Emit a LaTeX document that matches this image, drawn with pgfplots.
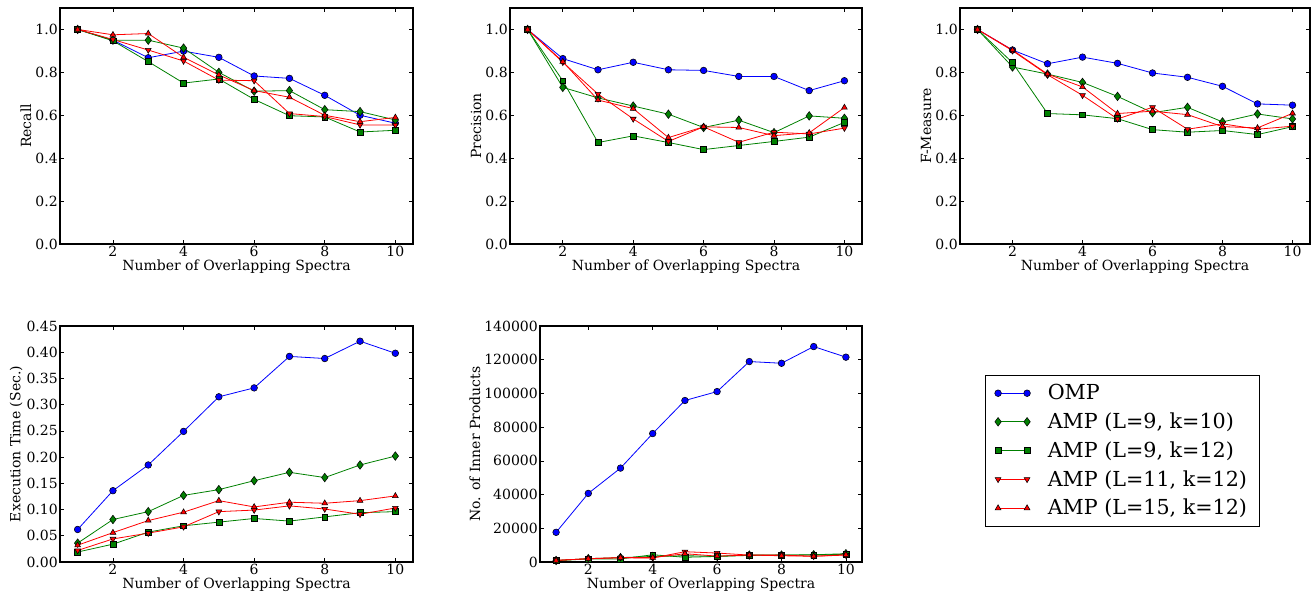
\documentclass[border=0pt]{standalone}
\usepackage{fontspec}
\setmainfont{DejaVu Serif}
\usepackage{pgfplots}
\usepackage{pgfplotstable}
\pgfplotsset{compat=1.18}

\pgfplotstableread{
x omp a b c d
1 1.0 1.0 1.0 1.0 1.0
2 0.950 0.950 0.947 0.953 0.975
3 0.868 0.950 0.850 0.904 0.981
4 0.899 0.913 0.750 0.853 0.870
5 0.870 0.800 0.769 0.764 0.788
6 0.783 0.712 0.674 0.761 0.715
7 0.772 0.715 0.598 0.608 0.684
8 0.693 0.626 0.592 0.594 0.600
9 0.600 0.617 0.522 0.555 0.570
10 0.563 0.578 0.530 0.555 0.590
}\recall

\pgfplotstableread{
x omp a b c d
1 1.0 1.0 1.0 1.0 1.0
2 0.864 0.730 0.761 0.847 0.850
3 0.812 0.681 0.473 0.699 0.671
4 0.847 0.643 0.504 0.583 0.631
5 0.812 0.605 0.473 0.478 0.496
6 0.809 0.543 0.440 0.546 0.546
7 0.781 0.577 0.459 0.474 0.543
8 0.781 0.519 0.478 0.521 0.505
9 0.715 0.597 0.498 0.513 0.518
10 0.761 0.586 0.567 0.540 0.636
}\precision

\pgfplotstableread{
x omp a b c d
1 1.0 1.0 1.0 1.0 1.0
2 0.904 0.825 0.845 0.901 0.904
3 0.840 0.792 0.608 0.789 0.792
4 0.871 0.753 0.602 0.693 0.732
5 0.842 0.688 0.584 0.583 0.608
6 0.797 0.612 0.533 0.637 0.619
7 0.777 0.637 0.521 0.535 0.603
8 0.735 0.569 0.529 0.560 0.547
9 0.653 0.606 0.510 0.535 0.541
10 0.647 0.583 0.547 0.549 0.609
}\fmeasure

\pgfplotstableread{
x omp a b c d
1 0.062 0.036 0.019 0.022 0.032
2 0.136 0.081 0.034 0.044 0.056
3 0.185 0.096 0.057 0.055 0.079
4 0.249 0.127 0.069 0.067 0.095
5 0.315 0.138 0.076 0.096 0.117
6 0.332 0.155 0.083 0.099 0.105
7 0.392 0.171 0.078 0.107 0.114
8 0.388 0.161 0.086 0.101 0.112
9 0.421 0.185 0.094 0.091 0.117
10 0.398 0.202 0.096 0.103 0.126
}\exectime

\pgfplotstableread{
x omp a b c d
1 17600 900 800 1000 900
2 40700 2000 1800 1900 2000
3 55700 2600 1800 2500 2600
4 76200 3300 4300 2400 2600
5 95800 3700 2800 6100 4900
6 101100 3400 3300 5300 3500
7 118900 4100 3900 4100 4100
8 117900 4100 4100 4100 3700
9 127800 4300 4100 3400 3400
10 121500 4900 4600 4100 4300
}\inner

\pgfplotsset{
  mpl/.style={
    scale only axis,
    height=177pt,
    axis line style={line width=0.8pt, black},
    xmin=0.5, xmax=10.5,
    xtick={2,4,6,8,10},
    tick align=inside,
    major tick length=3pt,
    tick style={black, line width=0.5pt},
    xlabel={Number of Overlapping Spectra},
    tick label style={font=\fontsize{10.5}{12}\selectfont, inner sep=1.5pt},
    label style={font=\fontsize{10.5}{12}\selectfont},
    xlabel style={yshift=3pt},
    ylabel style={yshift=-2pt},
    /pgf/number format/assume math mode=true,
  },
  prf/.style={
    mpl, ymin=0, ymax=1.1,
    ytick={0,0.2,0.4,0.6,0.8,1.0},
    yticklabel style={/pgf/number format/.cd, fixed, fixed zerofill, precision=1},
  },
  omp/.style={blue, line width=0.6pt, mark=*, mark size=2.5pt, mark options={fill=blue, draw=black, line width=0.4pt}},
  sa/.style={black!50!green, line width=0.6pt, mark=diamond*, mark size=3.2pt, mark options={fill=black!50!green, draw=black, line width=0.4pt}},
  sb/.style={black!50!green, line width=0.6pt, mark=square*, mark size=2.2pt, mark options={fill=black!50!green, draw=black, line width=0.4pt}},
  sc/.style={red, line width=0.6pt, mark=triangle*, mark size=2.5pt, mark options={rotate=180, fill=red, draw=black, line width=0.4pt}},
  sd/.style={red, line width=0.6pt, mark=triangle*, mark size=2.5pt, mark options={fill=red, draw=black, line width=0.4pt}},
}

\begin{document}
\begin{tikzpicture}
\path[use as bounding box] (0,0) rectangle (984pt,448.5pt);

\begin{axis}[prf, at={(45pt,265.5pt)}, anchor=south west, width=264.75pt, ylabel={Recall}]
\addplot[omp] table[x=x,y=omp] {\recall};
\addplot[sa] table[x=x,y=a] {\recall};
\addplot[sb] table[x=x,y=b] {\recall};
\addplot[sc] table[x=x,y=c] {\recall};
\addplot[sd] table[x=x,y=d] {\recall};
\end{axis}

\begin{axis}[prf, at={(382.5pt,265.5pt)}, anchor=south west, width=264pt, ylabel={Precision}]
\addplot[omp] table[x=x,y=omp] {\precision};
\addplot[sa] table[x=x,y=a] {\precision};
\addplot[sb] table[x=x,y=b] {\precision};
\addplot[sc] table[x=x,y=c] {\precision};
\addplot[sd] table[x=x,y=d] {\precision};
\end{axis}

\begin{axis}[prf, at={(720pt,265.5pt)}, anchor=south west, width=262.5pt, ylabel={F-Measure}]
\addplot[omp] table[x=x,y=omp] {\fmeasure};
\addplot[sa] table[x=x,y=a] {\fmeasure};
\addplot[sb] table[x=x,y=b] {\fmeasure};
\addplot[sc] table[x=x,y=c] {\fmeasure};
\addplot[sd] table[x=x,y=d] {\fmeasure};
\end{axis}

\begin{axis}[mpl, at={(45pt,27pt)}, anchor=south west, width=264.75pt,
  ymin=0, ymax=0.45,
  ytick={0,0.05,0.10,0.15,0.20,0.25,0.30,0.35,0.40,0.45},
  yticklabel style={/pgf/number format/.cd, fixed, fixed zerofill, precision=2},
  ylabel={Execution Time (Sec.)}]
\addplot[omp] table[x=x,y=omp] {\exectime};
\addplot[sa] table[x=x,y=a] {\exectime};
\addplot[sb] table[x=x,y=b] {\exectime};
\addplot[sc] table[x=x,y=c] {\exectime};
\addplot[sd] table[x=x,y=d] {\exectime};
\end{axis}

\begin{axis}[mpl, at={(405pt,27pt)}, anchor=south west, width=241.5pt,
  ymin=0, ymax=140000,
  ytick={0,20000,40000,60000,80000,100000,120000,140000},
  scaled y ticks=false,
  yticklabel style={/pgf/number format/.cd, fixed, set thousands separator={}},
  ylabel={No. of Inner Products},
  legend cell align=left,
  legend style={at={(1.382,0.792)}, anchor=north west, draw=black, line width=0.6pt,
    font=\fontsize{15.5}{18.5}\selectfont, row sep=4.3pt, column sep=11pt,
    inner xsep=7pt, inner ysep=4.8pt},
  legend image code/.code={\draw[#1] plot coordinates {(0pt,0pt) (21.75pt,0pt)};},
]
\addplot[omp] table[x=x,y=omp] {\inner};
\addplot[sa] table[x=x,y=a] {\inner};
\addplot[sb] table[x=x,y=b] {\inner};
\addplot[sc] table[x=x,y=c] {\inner};
\addplot[sd] table[x=x,y=d] {\inner};
\legend{OMP, AMP (L=9{,} k=10), AMP (L=9{,} k=12), AMP (L=11{,} k=12), AMP (L=15{,} k=12)}
\end{axis}
\end{tikzpicture}
\end{document}
